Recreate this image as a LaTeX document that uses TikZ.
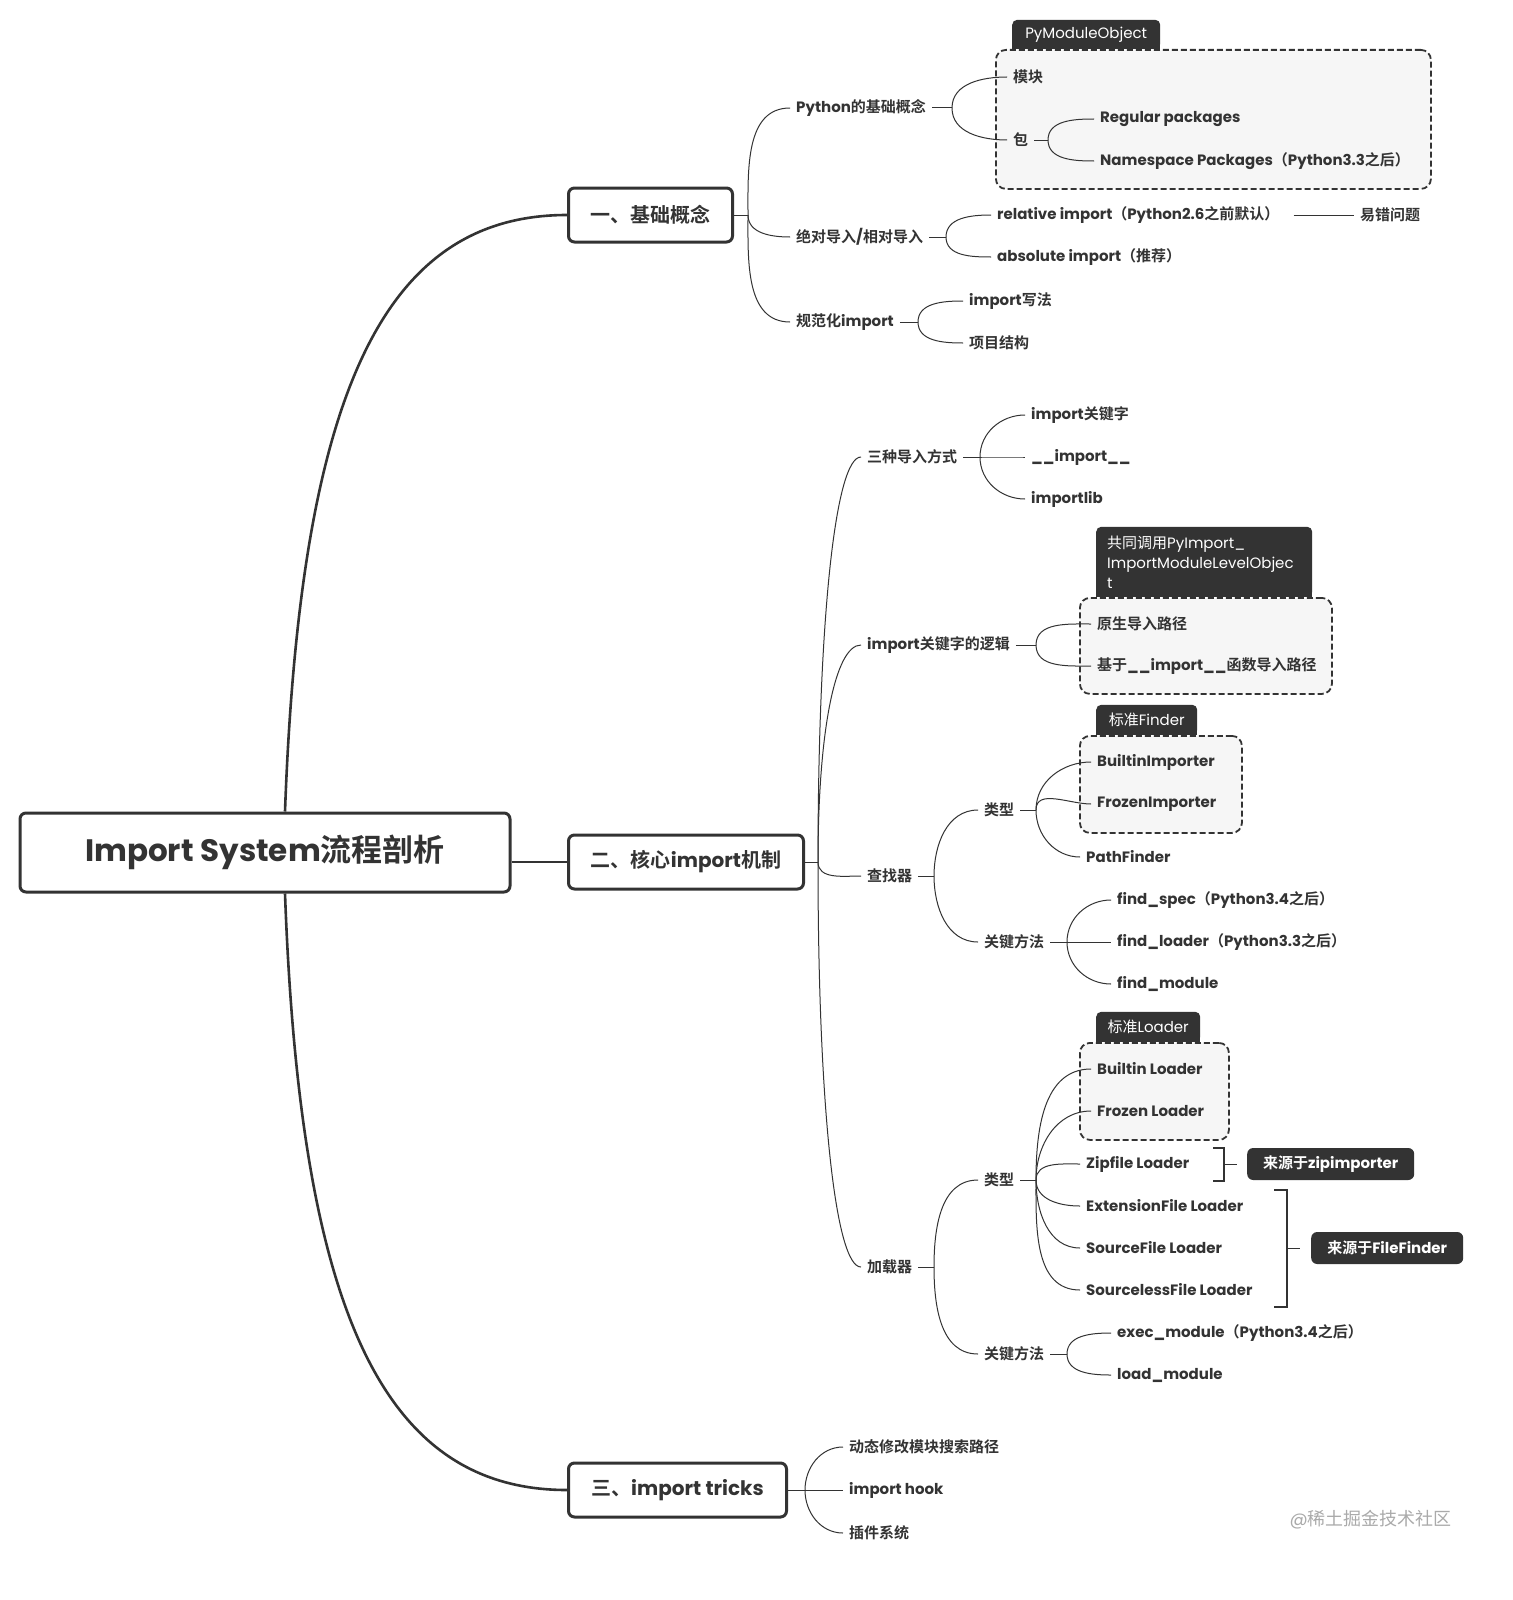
\documentclass[tikz,border=0pt]{standalone}
\usepackage{fontspec}
\setmainfont{Poppins}
\newfontfamily\cjkfamily{Noto Sans CJK SC}[BoldFont={Noto Sans CJK SC Bold}]
% switch to the CJK family for ideographs and CJK punctuation
\XeTeXinterchartokenstate=1
\newXeTeXintercharclass\cjkclass
\newcount\cjkcode
\def\cjkrange#1#2{\cjkcode=#1
  \loop\XeTeXcharclass\cjkcode=\cjkclass
  \ifnum\cjkcode<#2 \advance\cjkcode by 1 \repeat}
\cjkrange{"3000}{"303F}
\cjkrange{"4E00}{"9FFF}
\cjkrange{"FF00}{"FFEF}
\XeTeXinterchartoks 0 \cjkclass = {\cjkfamily}
\XeTeXinterchartoks 4095 \cjkclass = {\cjkfamily}
\XeTeXinterchartoks \cjkclass 0 = {\rmfamily}
\XeTeXinterchartoks \cjkclass 4095 = {\rmfamily}

\definecolor{ink}{HTML}{333333}
\definecolor{tabgray}{HTML}{333333}
\definecolor{framefill}{HTML}{F6F6F6}
\definecolor{wmgray}{HTML}{AAAAAA}

\tikzstyle{rootbox} = [draw=ink,line width=3pt,rounded corners=6pt,fill=white,text=ink,
  minimum width=490,minimum height=79,font=\fontsize{31}{36}\selectfont\bfseries]
\tikzstyle{mainbox} = [draw=ink,line width=3pt,rounded corners=6pt,fill=white,text=ink,
  anchor=west,minimum height=54,font=\fontsize{20}{24}\selectfont\bfseries]
\tikzstyle{topic} = [anchor=west,inner xsep=6pt,inner ysep=2pt,text=ink,
  font=\fontsize{15}{18}\selectfont\bfseries]
\tikzstyle{tab} = [fill=tabgray,text=white,rounded corners=5pt,anchor=south west,
  font=\fontsize{15}{20}\selectfont]
\tikzstyle{note} = [fill=tabgray,text=white,rounded corners=6pt,anchor=west,
  minimum height=32,inner xsep=12pt,font=\fontsize{15}{18}\selectfont\bfseries]
\tikzstyle{groupbox} = [draw=ink,fill=framefill,dash pattern=on 6pt off 3pt,
  line width=1.8pt,rounded corners=10pt,anchor=north west]
\tikzstyle{link} = [draw=ink,line width=1pt]
\tikzstyle{trunk} = [draw=ink,line width=2.6pt]
\tikzstyle{bracket} = [draw=ink,line width=1.8pt]

\begin{document}
\begin{tikzpicture}[x=1pt,y=-1pt]
    \fill[white] (0,0) rectangle (1512,1600);
    \useasboundingbox (0,0) rectangle (1512,1600);
    % frames and their tabs
    \node[groupbox,minimum width=435,minimum height=139] (pyframe) at (995,49) {};
    \node[groupbox,minimum width=252,minimum height=96] (kwframe) at (1079,597) {};
    \node[groupbox,minimum width=162,minimum height=97] (finderframe) at (1079,735) {};
    \node[groupbox,minimum width=149,minimum height=97] (loaderframe) at (1079,1042) {};
    \foreach \x/\y/\w in {1012/49/148, 1096/597/216, 1096/735/101, 1096/1042/104}
      \fill[tabgray] (\x,\y-6) rectangle (\x+\w,\y);
    \node[tab,minimum width=148,minimum height=29] (pymod) at (1012,49) {PyModuleObject};
    \node[tab,text width=194pt,inner xsep=11pt,minimum height=70,align=left] (pyimport) at (1096,597)
      {共同调用PyImport\_\\ImportModuleLevelObjec\\t};
    \node[tab,minimum width=101,minimum height=30] (stdfinder) at (1096,735) {标准Finder};
    \node[tab,minimum width=104,minimum height=30] (stdloader) at (1096,1042) {标准Loader};

    % main nodes
    \node[rootbox] (root) at (265,852.5) {Import System流程剖析};
    \node[mainbox,minimum width=164] (basics) at (567,215) {一、基础概念};
    \node[mainbox,minimum width=235] (core) at (567,862) {二、核心import机制};
    \node[mainbox,minimum width=218] (tricks) at (567,1490) {三、import tricks};

    % branch points
    \foreach \name/\x/\y in {bA/748/215, bBasic/952/108, bPkg/1048/140, bAbsrel/946/237,
      bNorm/918/322, bB/818/862, bWays/980/457, bKw/1036/645, bFinder/934/876,
      bFtype/1036/810, bFmeth/1067/942, bLoader/934/1267, bLtype/1036/1180,
      bLmeth/1067/1354, bC/805/1490}
      \coordinate (\name) at (\x,\y);

    % topics
    \foreach \nodename/\x/\y/\txt in {
      basic/790/108/Python的基础概念,
      norm/790/322/规范化import,
      mod/1007/77/模块,
      pkg/1007/140/包,
      regular/1094/119/Regular packages,
      nspkg/1094/161/Namespace Packages（Python3.3之后）,
      rel/991/215/relative import（Python2.6之前默认）,
      abs/991/257/absolute import（推荐）,
      easy/1354/215/易错问题,
      style/963/301/import写法,
      layout/963/343/项目结构,
      ways/861/457/三种导入方式,
      kwlogic/861/645/import关键字的逻辑,
      finder/861/876/查找器,
      loader/861/1267/加载器,
      kw/1025/415/import关键字,
      dunder/1025/457/\_\_import\_\_,
      implib/1025/499/importlib,
      native/1091/624/原生导入路径,
      based/1091/666/基于\_\_import\_\_函数导入路径,
      ftype/978/810/类型,
      fmeth/978/942/关键方法,
      builtin/1091/762/BuiltinImporter,
      frozen/1091/804/FrozenImporter,
      pathf/1080/857/PathFinder,
      spec/1111/900/find\_spec（Python3.4之后）,
      floader/1111/942/find\_loader（Python3.3之后）,
      fmodule/1111/984/find\_module,
      ltype/978/1180/类型,
      lmeth/978/1354/关键方法,
      bl/1091/1069/Builtin Loader,
      fl/1091/1111/Frozen Loader,
      zl/1080/1164/Zipfile Loader,
      el/1080/1206/ExtensionFile Loader,
      sl/1080/1248/SourceFile Loader,
      sll/1080/1290/SourcelessFile Loader,
      exec/1111/1333/exec\_module（Python3.4之后）,
      load/1111/1375/load\_module,
      dyn/843/1447/动态修改模块搜索路径,
      hook/843/1490/import hook,
      plugin/843/1533/插件系统}
      \node[topic] (\nodename) at (\x,\y) {\txt};
    \node[topic] (absrel) at (790,237) {绝对导入/相对导入};

    % notes
    \node[note,minimum width=167] (zipnote) at (1247,1164) {来源于zipimporter};
    \node[note,minimum width=152] (filenote) at (1311,1248) {来源于FileFinder};
    \node[anchor=west,text=wmgray,font=\fontsize{18}{20}\selectfont] (mark) at (1286,1520) {@稀土掘金技术社区};

    % trunk
    \draw[trunk] ([xshift=20pt]root.north) .. controls (300,400) and (380,215) .. (basics.west);
    \draw[trunk] ([xshift=20pt]root.south) .. controls (300,1305) and (380,1490) .. (tricks.west);
    \draw[trunk] (root.east |- core.west) -- (core.west);

    % stubs
    \foreach \a/\b in {basics/bA, basic/bBasic, pkg/bPkg, absrel/bAbsrel, norm/bNorm,
      core/bB, ways/bWays, kwlogic/bKw, finder/bFinder, ftype/bFtype, fmeth/bFmeth,
      loader/bLoader, ltype/bLtype, lmeth/bLmeth, tricks/bC}
      \draw[link] (\a.east) -- (\b);
    \draw[link] ([xshift=8pt]rel.east) -- (easy.west);

    % edges
    \path
    \foreach \startnode/\endnode/\out in {
      bA/basic/90, bA/absrel/-90, bA/norm/-90,
      bBasic/mod/90, bBasic/pkg/-90, bPkg/regular/90, bPkg/nspkg/-90,
      bAbsrel/rel/90, bAbsrel/abs/-90, bNorm/style/90, bNorm/layout/-90,
      bB/finder/-90,
      bWays/kw/90, bWays/dunder/0, bWays/implib/-90,
      bKw/native/90, bKw/based/-90,
      bFinder/ftype/90, bFinder/fmeth/-90,
      bFtype/builtin/90, bFtype/frozen/90, bFtype/pathf/-90,
      bFmeth/spec/90, bFmeth/floader/0, bFmeth/fmodule/-90,
      bLoader/ltype/90, bLoader/lmeth/-90,
      bLtype/bl/90, bLtype/fl/90, bLtype/zl/90, bLtype/el/-90, bLtype/sl/-90, bLtype/sll/-90,
      bLmeth/exec/90, bLmeth/load/-90,
      bC/dyn/90, bC/hook/0, bC/plugin/-90}
    {
      (\startnode) edge[link,out=\out,in=180] (\endnode.west)
    };
    % long ones: steep start, short turn at the end
    \path
    \foreach \endnode/\out/\dist in {ways/90/240, kwlogic/90/130, loader/-90/240}
    {
      (bB) edge[link,out=\out,in=180,out distance=\dist pt,in distance=26pt] (\endnode.west)
    };

    % brackets
    \coordinate (zipmid) at (1224,1164);
    \coordinate (zipend) at (1237,1164);
    \coordinate (filemid) at (1287,1248);
    \coordinate (fileend) at (1300,1248);
    \draw[bracket] (1213,1148) -- (1224,1148) -- (1224,1181) -- (1213,1181);
    \draw[bracket] (1274,1190) -- (1287,1190) -- (1287,1307) -- (1274,1307);
    \draw[link] (zipmid) -- (zipend);
    \draw[link] (filemid) -- (fileend);
\end{tikzpicture}
\end{document}
